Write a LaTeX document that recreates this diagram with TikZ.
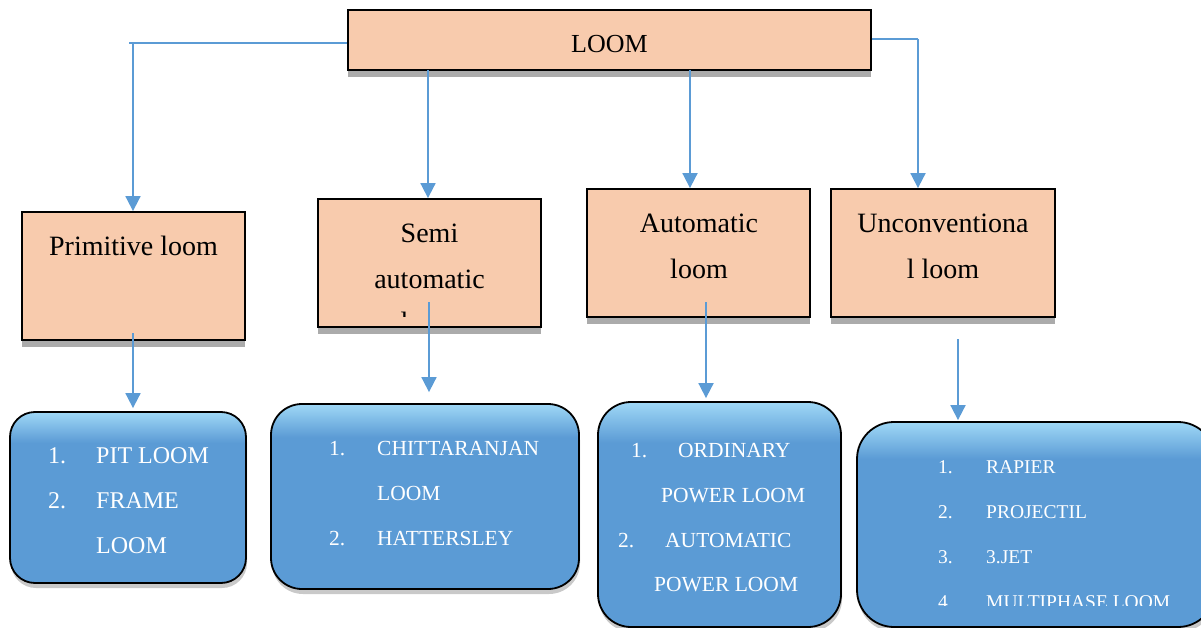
\documentclass[tikz,border=0pt]{standalone}
\usepackage{fontspec}
\setmainfont{Liberation Serif}
\usetikzlibrary{arrows.meta,shadows}
\definecolor{peach}{HTML}{F8CBAD}
\definecolor{bmain}{HTML}{5B9BD5}
\definecolor{blight}{HTML}{9FD8F6}
\definecolor{bedge}{HTML}{548FC6}
\definecolor{connc}{HTML}{5B9BD5}
\pgfdeclareverticalshading{glossv}{100bp}{color(0bp)=(bmain); color(25bp)=(bmain); color(66bp)=(bmain); color(75bp)=(blight); color(100bp)=(blight)}
\begin{document}
\begin{tikzpicture}[x=1pt,y=-1pt,
  peachbox/.style={draw=black, line width=1.8pt, fill=peach, inner sep=0pt,
    drop shadow={shadow xshift=0pt, shadow yshift=-7pt, opacity=1, fill=black!33}},
  bluebox/.style={draw=black, line width=1.8pt, shade, shading=glossv, inner sep=0pt,
    drop shadow={shadow xshift=1pt, shadow yshift=-5pt, opacity=0.3, fill=black!70}},
  ptxt/.style={font=\fontsize{28}{32}\selectfont, text=black, anchor=base, inner sep=0pt},
  ltxt/.style={font=\fontsize{26}{30}\selectfont, text=black, anchor=base, inner sep=0pt},
  btxt/.style={font=\fontsize{24}{28}\selectfont, text=white, anchor=base west, inner sep=0pt},
  ctxt/.style={font=\fontsize{21.5}{25}\selectfont, text=white, anchor=base west, inner sep=0pt},
  dtxt/.style={font=\fontsize{19.5}{23}\selectfont, text=white, anchor=base west, inner sep=0pt},
  hline/.style={draw=connc, line width=1.3pt},
  arr/.style={draw=connc, line width=1.8pt, -{Triangle[width=15pt,length=15pt]}}
]
\useasboundingbox (0,0) rectangle (1201,628);
\clip (0,0) rectangle (1201,628);

% top box
\node[peachbox, minimum width=523pt, minimum height=60pt] (loom) at (609.5,40) {};
\node[ltxt] (loomt) at (609.5,53) {LOOM};

% second level
\node[peachbox, minimum width=223pt, minimum height=128pt] (prim) at (133.5,276) {};
\node[peachbox, minimum width=223pt, minimum height=128pt] (semi) at (429.5,263) {};
\node[peachbox, minimum width=223pt, minimum height=128pt] (auto) at (698.5,253) {};
\node[peachbox, minimum width=224pt, minimum height=128pt] (unc) at (943,253) {};

\node[ptxt] (primt) at (133.5,255) {Primitive loom};
\node[ptxt] (semit1) at (429.5,243) {Semi};
\node[ptxt] (semit2) at (429.5,288) {automatic};
\begin{scope}
  \clip (320,300) rectangle (540,316);
  \node[ptxt] (semit3) at (429.5,331) {loom};
\end{scope}
\node[ptxt] (autot1) at (699,233) {Automatic};
\node[ptxt] (autot2) at (699,278) {loom};
\node[ptxt] (unct1) at (943,233) {Unconventiona};
\node[ptxt] (unct2) at (943,278) {l loom};

% bottom boxes
\node[bluebox, rounded corners=25pt, minimum width=236pt, minimum height=171pt] (b1) at (128,497.5) {};
\node[bluebox, rounded corners=31pt, minimum width=308pt, minimum height=185pt] (b2) at (425,496.5) {};
\node[bluebox, rounded corners=33pt, minimum width=243pt, minimum height=225pt] (b3) at (719.5,514.5) {};
\node[bluebox, rounded corners=37pt, minimum width=358pt, minimum height=205pt] (b4) at (1036,524.5) {};

\node[btxt] (b1n1) at (48,463) {1.};
\node[btxt] (b1t1) at (96,463) {PIT LOOM};
\node[btxt] (b1n2) at (48,508) {2.};
\node[btxt] (b1t2) at (96,508) {FRAME};
\node[btxt] (b1t3) at (96,553) {LOOM};

\node[ctxt] (b2n1) at (329,455) {1.};
\node[ctxt] (b2t1) at (377,455) {CHITTARANJAN};
\node[ctxt] (b2t2) at (377,500) {LOOM};
\node[ctxt] (b2n2) at (329,545) {2.};
\node[ctxt] (b2t3) at (377,545) {HATTERSLEY};

\node[ctxt] (b3n1) at (631,457) {1.};
\node[ctxt] (b3t1) at (678,457) {ORDINARY};
\node[ctxt] (b3t2) at (661,502) {POWER LOOM};
\node[ctxt] (b3n2) at (618,547) {2.};
\node[ctxt] (b3t3) at (665,547) {AUTOMATIC};
\node[ctxt] (b3t4) at (654,591) {POWER LOOM};

\node[dtxt] (b4n1) at (938,473) {1.};
\node[dtxt] (b4t1) at (986,473) {RAPIER};
\node[dtxt] (b4n2) at (938,518) {2.};
\node[dtxt] (b4t2) at (986,518) {PROJECTIL};
\node[dtxt] (b4n3) at (938,563) {3.};
\node[dtxt] (b4t3) at (986,563) {3.JET};
\begin{scope}
  \clip (900,580) rectangle (1201,605);
  \node[dtxt] (b4n4) at (938,608) {4.};
  \node[dtxt] (b4t4) at (986,608) {MULTIPHASE LOOM};
\end{scope}

% connectors from top
\coordinate (j1) at (133,43);
\coordinate (j1s) at (129,43);
\draw[hline] ([yshift=-3pt]loom.west) -- (j1s);
\draw[arr] (j1) -- (j1 |- prim.north);
\coordinate (j2) at (428,70);
\draw[arr] (j2) -- (j2 |- semi.north);
\coordinate (j3) at (690,70);
\draw[arr] (j3) -- (j3 |- auto.north);
\coordinate (j4) at (918,39);
\draw[hline] ([yshift=1pt]loom.east) -- (j4);
\draw[arr] (j4) -- (j4 |- unc.north);

% connectors to bottom boxes
\coordinate (k1) at (133,333);
\draw[arr, shorten >=3pt] (k1) -- (k1 |- b1.north);
\coordinate (k2) at (429,302);
\draw[arr, shorten >=11pt] (k2) -- (k2 |- b2.north);
\coordinate (k3) at (706,302);
\draw[arr, shorten >=3pt] (k3) -- (k3 |- b3.north);
\coordinate (k4) at (958,339);
\draw[arr, shorten >=1pt] (k4) -- (k4 |- b4.north);
\end{tikzpicture}
\end{document}
